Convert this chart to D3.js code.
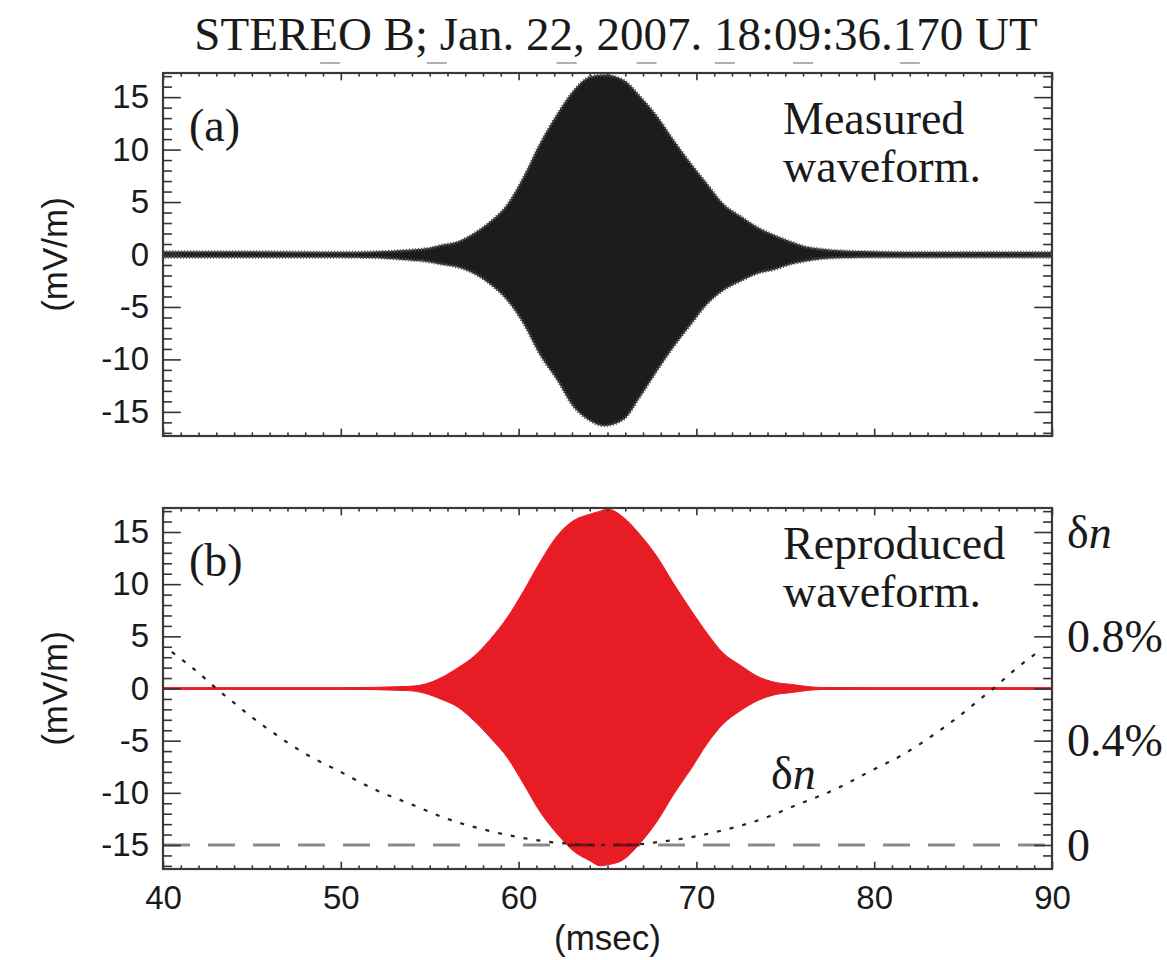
<!DOCTYPE html>
<html>
<head>
<meta charset="utf-8">
<script src="https://cdn.jsdelivr.net/npm/d3@7"></script>
<style>
  html, body { margin: 0; padding: 0; background: #fff; }
  svg { display: block; }
  .serif { font-family: "Liberation Serif", "Times New Roman", serif; fill: #1a1a1a; }
  .sans { font-family: "Liberation Sans", Arial, Helvetica, sans-serif; fill: #1a1a1a; }
</style>
</head>
<body>
<svg id="chart" width="1167" height="960"></svg>
<script>
// ---------------- data ----------------
const titleText = "STEREO B; Jan. 22, 2007. 18:09:36.170 UT";

const xTicks = [40, 50, 60, 70, 80, 90];
const yTicks = [-15, -10, -5, 0, 5, 10, 15];
const dnTicks = [0, 0.2, 0.4, 0.6, 0.8, 1.0, 1.2];
const dnTickLabels = ["0", "", "0.4%", "", "0.8%", "", ""];

// small marks printed under the title (time in msec)
const markTimes = [49.4, 55.4, 62.7, 67.2, 71.6, 76.0, 82.0];

// (a) measured waveform: envelope of the oscillation (mV/m)
const measuredTime  = [40, 45, 50, 52, 53.75, 55, 55.6, 56.6, 57.5, 58.4, 59.4, 60.3, 61.2, 62.2, 63.1, 64.0, 64.8, 65.9, 66.8, 67.8, 68.7, 69.7, 70.6, 71.5, 72.5, 73.4, 74.4, 75.3, 76.2, 77.0, 78, 80, 82, 85, 90];
const measuredUpper = [0.25, 0.25, 0.2, 0.25, 0.4, 0.6, 0.85, 1.2, 2.0, 3.1, 4.8, 7.4, 10.5, 13.4, 15.6, 16.9, 17.1, 16.6, 15.1, 13.1, 10.9, 8.6, 6.7, 4.8, 3.6, 2.6, 1.8, 1.2, 0.7, 0.5, 0.35, 0.25, 0.2, 0.2, 0.2];
const measuredLower = [-0.25, -0.25, -0.25, -0.3, -0.5, -0.7, -0.9, -1.2, -1.8, -2.8, -4.4, -6.6, -9.5, -12.0, -14.5, -15.8, -16.3, -15.7, -13.6, -11.0, -8.8, -6.6, -4.7, -3.4, -2.5, -1.8, -1.4, -0.9, -0.6, -0.4, -0.3, -0.25, -0.25, -0.25, -0.25];

// (b) reproduced waveform envelope (mV/m)
const reproducedTime  = [40, 50, 53.75, 54.7, 55.6, 56.6, 57.5, 58.4, 59.4, 60.3, 61.2, 62.2, 63.1, 64.0, 64.6, 65.0, 65.9, 66.8, 67.8, 68.7, 69.7, 70.6, 71.5, 72.5, 73.4, 74.4, 75.3, 76.2, 77.0, 80, 90];
const reproducedUpper = [0.08, 0.08, 0.2, 0.4, 1.0, 2.0, 3.1, 4.7, 6.9, 9.4, 12.1, 14.7, 16.1, 16.7, 17.0, 17.2, 16.4, 14.8, 12.6, 10.1, 7.5, 5.3, 3.4, 2.2, 1.2, 0.6, 0.4, 0.2, 0.1, 0.08, 0.08];
const reproducedLower = [-0.08, -0.08, -0.2, -0.45, -1.0, -1.8, -3.1, -4.7, -6.7, -9.2, -11.8, -14.0, -15.6, -16.5, -17.0, -16.9, -16.4, -14.9, -12.7, -10.2, -7.7, -5.3, -3.4, -2.1, -1.2, -0.6, -0.4, -0.2, -0.1, -0.08, -0.08];

// density perturbation profile δn (percent)
const densityTime    = [40.5, 42, 43, 44, 45, 46, 48, 50, 52, 54, 56, 58, 60, 62, 63, 64, 65, 66, 67, 67.7, 69.7, 71.7, 73.7, 75.7, 77.7, 79.7, 81.7, 83.7, 84.7, 85.7, 86.7, 87.7, 89.2];
const densityPercent = [0.74, 0.66, 0.60, 0.545, 0.49, 0.44, 0.35, 0.28, 0.21, 0.155, 0.10, 0.06, 0.03, 0.01, 0.004, 0.0, 0.0, 0.0, 0.004, 0.01, 0.03, 0.06, 0.10, 0.155, 0.21, 0.28, 0.35, 0.44, 0.49, 0.545, 0.60, 0.66, 0.74];

// ---------------- layout ----------------
const svg = d3.select("#chart");
const X0 = 163, X1 = 1052;
const panels = [
  { id: "a", top: 73, bottom: 436 },
  { id: "b", top: 508, bottom: 869 }
];
const yDomain = [-17.3, 17.3];
const x = d3.scaleLinear([40, 90], [X0, X1]);

const YMAJ = 17.8, YMIN = 8.9, XMAJ = 7.3, XMIN = 3.6;
const axisColor = "#333";

const minorY = d3.range(-17, 18, 1).filter(v => v % 5 !== 0);
const minorX = d3.range(40, 91, 1).filter(v => v % 10 !== 0);

function styleAxis(sel) {
  sel.select(".domain").remove();
  sel.selectAll(".tick line").attr("stroke", axisColor).attr("stroke-width", 1.6);
  sel.selectAll(".tick text").attr("class", "sans").style("font-size", "33px").attr("fill", "#1a1a1a");
}

panels.forEach(p => {
  const y = d3.scaleLinear(yDomain, [p.bottom, p.top]);
  p.y = y;
  const g = svg.append("g").attr("class", "panel-" + p.id);

  svg.append("clipPath").attr("id", "clip-" + p.id)
    .append("rect").attr("x", X0).attr("y", p.top).attr("width", X1 - X0).attr("height", p.bottom - p.top);

  const plot = g.append("g").attr("clip-path", `url(#clip-${p.id})`);
  p.plot = plot;

  // left axis with labels
  g.append("g").attr("transform", `translate(${X0},0)`)
    .call(d3.axisLeft(y).tickValues(yTicks).tickSize(-YMAJ).tickPadding(14).tickFormat(d => String(d)))
    .call(styleAxis);
  g.append("g").attr("transform", `translate(${X0},0)`)
    .call(d3.axisLeft(y).tickValues(minorY).tickSize(-YMIN).tickFormat(""))
    .call(styleAxis);

  // top axis
  g.append("g").attr("transform", `translate(0,${p.top})`)
    .call(d3.axisTop(x).tickValues(xTicks).tickSize(-XMAJ).tickFormat(""))
    .call(styleAxis);
  g.append("g").attr("transform", `translate(0,${p.top})`)
    .call(d3.axisTop(x).tickValues(minorX).tickSize(-XMIN).tickFormat(""))
    .call(styleAxis);

  // bottom axis (labels on the lower panel only)
  g.append("g").attr("transform", `translate(0,${p.bottom})`)
    .call(d3.axisBottom(x).tickValues(xTicks).tickSize(-XMAJ).tickPadding(17)
      .tickFormat(p.id === "b" ? (d => String(d)) : ""))
    .call(styleAxis);
  g.append("g").attr("transform", `translate(0,${p.bottom})`)
    .call(d3.axisBottom(x).tickValues(minorX).tickSize(-XMIN).tickFormat(""))
    .call(styleAxis);

  // y-axis title
  g.append("text").attr("class", "sans")
    .attr("transform", `translate(55,${(p.top + p.bottom) / 2}) rotate(-90)`)
    .attr("text-anchor", "middle").attr("dy", "0.35em")
    .style("font-size", "35px").text("(mV/m)");
});

// ---------- panel (a): measured waveform ----------
const pa = panels[0];
const areaA = d3.area()
  .x((d, i) => x(measuredTime[i]))
  .y0((d, i) => pa.y(measuredLower[i]))
  .y1((d, i) => pa.y(measuredUpper[i]))
  .curve(d3.curveMonotoneX);
pa.plot.append("path").datum(measuredTime)
  .attr("d", areaA)
  .attr("fill", "#1c1c1c")
  .attr("stroke", "#2a2a2a").attr("stroke-width", 1);
// ragged fringe of the individual wave crests
pa.plot.append("path").datum(measuredTime)
  .attr("d", areaA)
  .attr("fill", "none")
  .attr("stroke", "#555").attr("stroke-width", 3.2)
  .attr("stroke-dasharray", "1.2,1.8");

// right axis of panel (a): mirrored ticks
[[yTicks, YMAJ], [minorY, YMIN]].forEach(([vals, len]) => {
  svg.append("g").attr("transform", `translate(${X1},0)`)
    .call(d3.axisRight(pa.y).tickValues(vals).tickSize(-len).tickFormat(""))
    .call(styleAxis);
});

// ---------- panel (b): reproduced waveform and δn ----------
const pb = panels[1];
const dn = d3.scaleLinear([(yDomain[0] + 15) / 25, (yDomain[1] + 15) / 25], [pb.bottom, pb.top]);

pb.plot.append("line")
  .attr("x1", X0).attr("x2", X1).attr("y1", pb.y(0)).attr("y2", pb.y(0))
  .attr("stroke", "#e81c24").attr("stroke-width", 2);

const areaB = d3.area()
  .x((d, i) => x(reproducedTime[i]))
  .y0((d, i) => pb.y(reproducedLower[i]))
  .y1((d, i) => pb.y(reproducedUpper[i]))
  .curve(d3.curveMonotoneX);
pb.plot.append("path").datum(reproducedTime)
  .attr("d", areaB)
  .attr("fill", "#e81c24")
  .attr("stroke", "#e81c24").attr("stroke-width", 1);

// δn = 0 reference
pb.plot.append("line")
  .attr("x1", X0).attr("x2", X1).attr("y1", dn(0)).attr("y2", dn(0))
  .attr("stroke", "#000").attr("stroke-opacity", 0.46)
  .attr("stroke-width", 3).attr("stroke-dasharray", "27,18");

// δn profile
const dnLine = d3.line()
  .x((d, i) => x(densityTime[i]))
  .y((d, i) => dn(densityPercent[i]))
  .curve(d3.curveMonotoneX);
pb.plot.append("path").datum(densityTime)
  .attr("d", dnLine)
  .attr("fill", "none").attr("stroke", "#222")
  .attr("stroke-width", 2.2).attr("stroke-dasharray", "4,9");

// right axis of panel (b): δn scale
const dnMinor = d3.range(-0.04, 1.29, 0.04).map(v => +v.toFixed(2)).filter(v => Math.round(v * 100) % 20 !== 0);
svg.append("g").attr("transform", `translate(${X1},0)`)
  .call(d3.axisRight(dn).tickValues(dnTicks).tickSize(-YMAJ).tickFormat(""))
  .call(styleAxis);
svg.append("g").attr("transform", `translate(${X1},0)`)
  .call(d3.axisRight(dn).tickValues(dnMinor).tickSize(-YMIN).tickFormat(""))
  .call(styleAxis);

const dnLabelG = svg.append("g");
dnTicks.forEach((v, i) => {
  if (!dnTickLabels[i]) return;
  dnLabelG.append("text").attr("class", "serif")
    .attr("x", 1067).attr("y", dn(v)).attr("dy", "0.34em")
    .style("font-size", "46px").text(dnTickLabels[i]);
});
const dnTop = dnLabelG.append("text").attr("class", "serif")
  .attr("x", 1067).attr("y", dn(1.2)).attr("dy", "0.34em").style("font-size", "46px");
dnTop.append("tspan").text("δ");
dnTop.append("tspan").style("font-style", "italic").text("n");

// ---------- frames ----------
panels.forEach(p => {
  svg.append("rect")
    .attr("x", X0).attr("y", p.top).attr("width", X1 - X0).attr("height", p.bottom - p.top)
    .attr("fill", "none").attr("stroke", "#3a3a3a").attr("stroke-width", 2.2);
});

// ---------- text ----------
svg.append("text").attr("class", "serif")
  .attr("x", 616).attr("y", 50).attr("text-anchor", "middle")
  .style("font-size", "47px").text(titleText);

svg.append("g").selectAll("line").data(markTimes).join("line")
  .attr("x1", d => x(d) - 10).attr("x2", d => x(d) + 10)
  .attr("y1", 63).attr("y2", 63)
  .attr("stroke", "#b0b0b0").attr("stroke-width", 2);

function label(txt, px, py) {
  svg.append("text").attr("class", "serif").attr("x", px).attr("y", py)
    .style("font-size", "46px").text(txt);
}
label("(a)", 189, 141);
label("Measured", 783, 134);
label("waveform.", 783, 182);
label("(b)", 189, 576);
label("Reproduced", 783, 559);
label("waveform.", 783, 607);

const dnIn = svg.append("text").attr("class", "serif")
  .attr("x", 771).attr("y", 789).style("font-size", "46px");
dnIn.append("tspan").text("δ");
dnIn.append("tspan").style("font-style", "italic").text("n");

svg.append("text").attr("class", "sans")
  .attr("x", x(65)).attr("y", 950).attr("text-anchor", "middle")
  .style("font-size", "35px").text("(msec)");
</script>
</body>
</html>
